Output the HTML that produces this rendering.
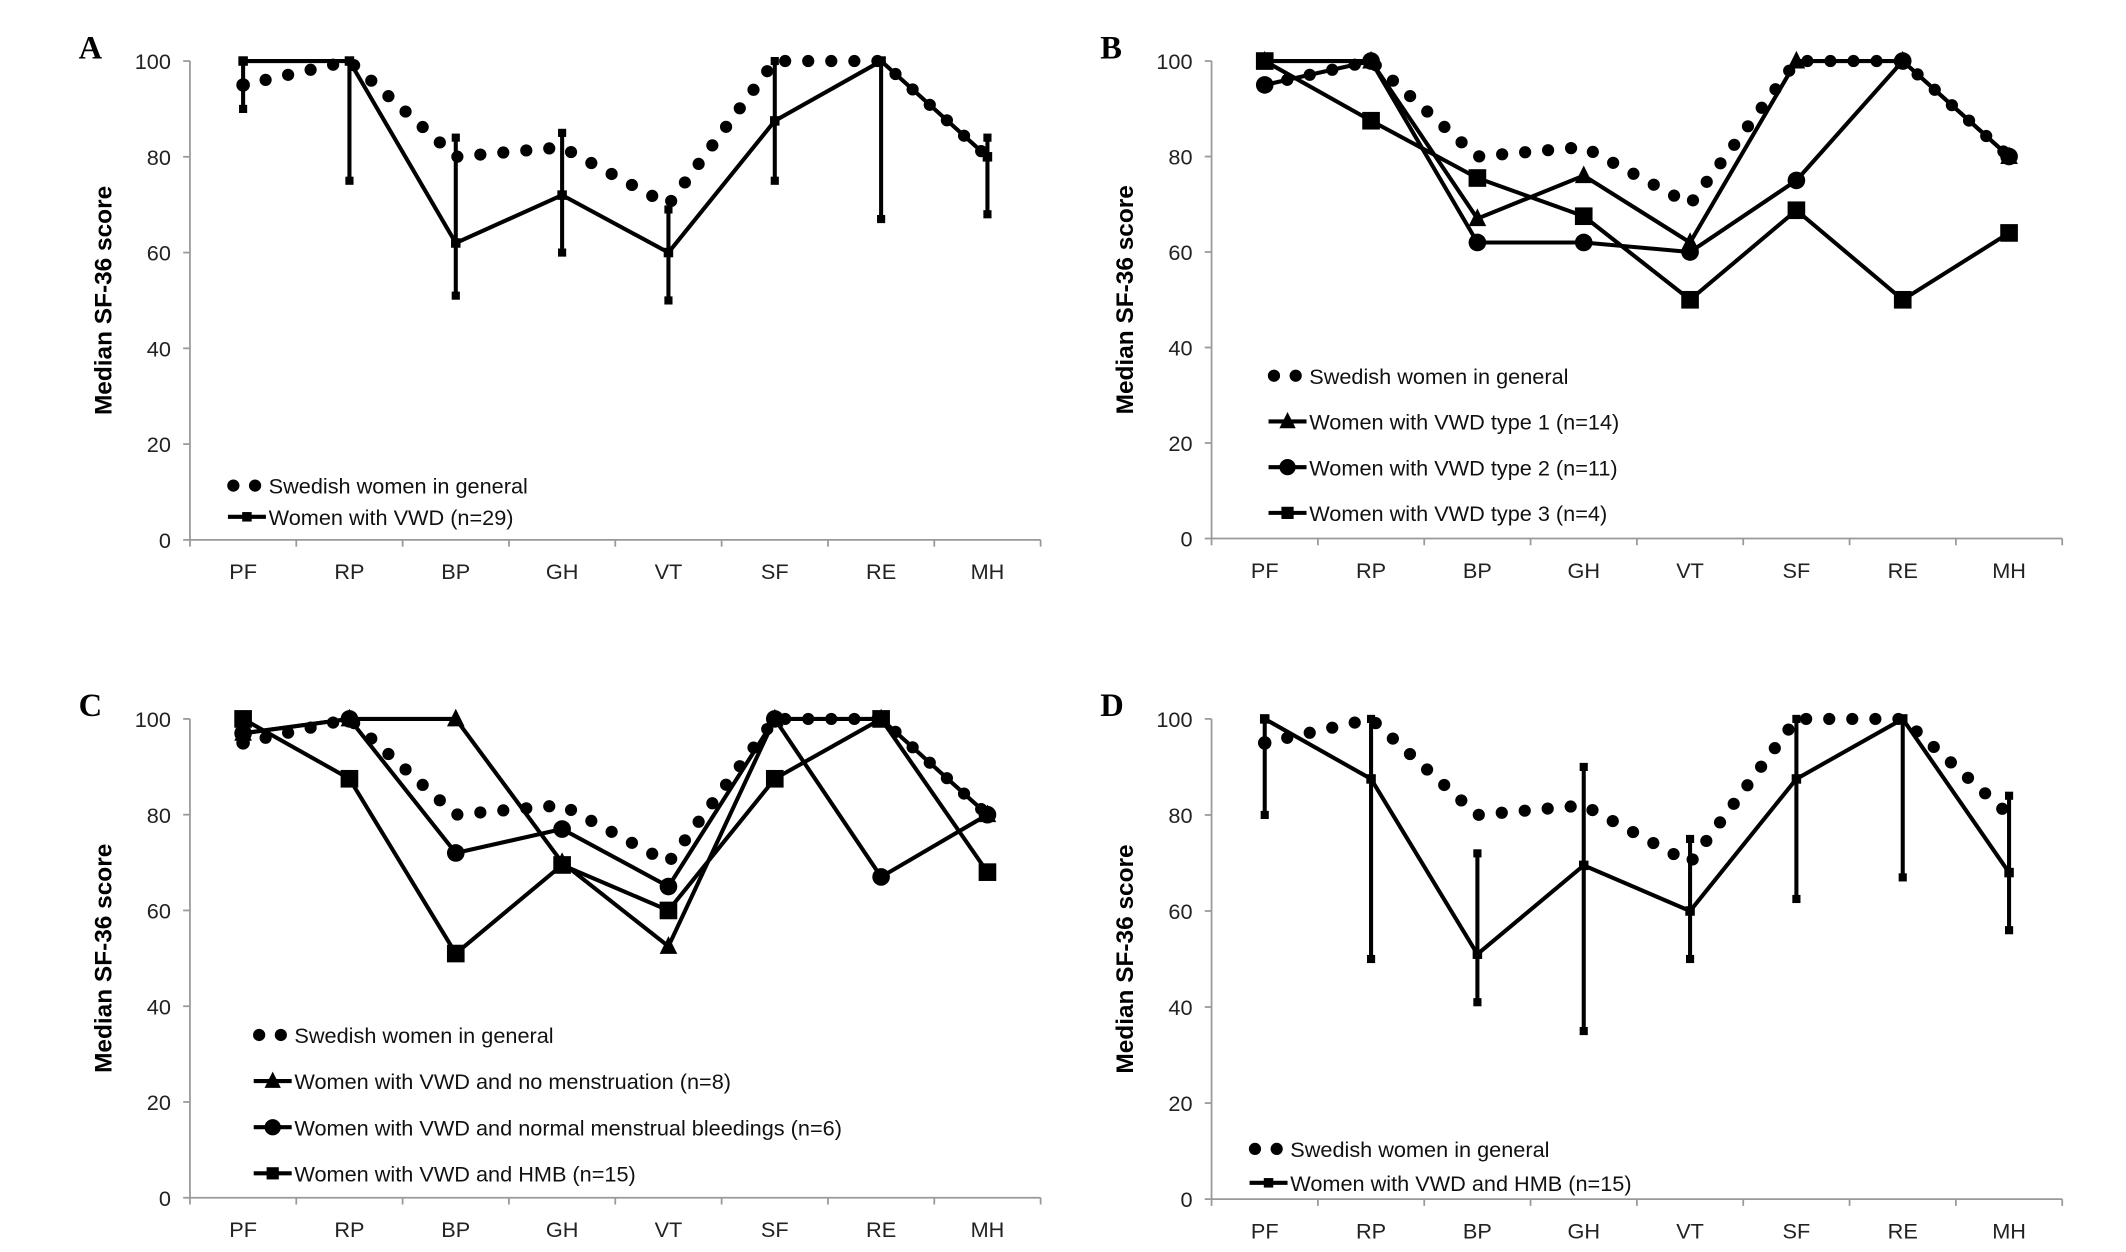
<!DOCTYPE html>
<html><head><meta charset="utf-8"><style>
html,body{margin:0;padding:0;background:#fff}
svg{display:block}
text{font-family:"Liberation Sans",sans-serif}
text.pl{font-family:"Liberation Serif",serif}
</style></head><body>
<svg id="fig" width="2126" height="1252" viewBox="0 0 1567 923" preserveAspectRatio="none"></svg>
<script>
const categories=["PF","RP","BP","GH","VT","SF","RE","MH"];
const yTicks=[0,20,40,60,80,100];
const general=[95,100,80,82,70,100,100,80];
const aVWD=[100,100,62,72,60,87.5,100,80];
const aLow=[90,75,51,60,50,75,67,68];
const aHigh=[100,100,84,85,69,100,100,84];
const bType1=[100,100,67,76,62,100,100,80];
const bType2=[95,100,62,62,60,75,100,80];
const bType3=[100,87.5,75.5,67.5,50,68.75,50,64];
const cNoMens=[97,100,100,70,52.5,100,100,80];
const cNormal=[97,100,72,77,65,100,67,80];
const cHMB=[100,87.5,51,69.5,60,87.5,100,68];
const dHMB=[100,87.5,51,69.5,60,87.5,100,68];
const dLow=[80,50,41,35,50,62.5,67,56];
const dHigh=[100,100,72,90,75,100,100,84];

const NS="http://www.w3.org/2000/svg";
const svg=document.getElementById('fig');
function mk(tag,attrs,parent){const e=document.createElementNS(NS,tag);for(const k in attrs)e.setAttribute(k,attrs[k]);(parent||svg).appendChild(e);return e;}

function panel(p){
  const g=mk('g',{});
  
  
  const x0=p.x0,x1=p.x0+627,yt=p.yt,yb=p.yb;
  const step=(x1-x0)/categories.length;
  const X=i=>x0+step*(i+0.5);
  const Y=v=>yb-(yb-yt)*v/100;
  const lab=mk('text',{x:p.x0-82,y:yt-2,'font-size':24,'font-weight':'bold','class':'pl'},g);
  lab.textContent=p.id;
  
  
  mk('line',{x1:x0,y1:yt,x2:x0,y2:yb,stroke:'#999','stroke-width':1.3},g);
  mk('line',{x1:x0,y1:yb,x2:x1,y2:yb,stroke:'#999','stroke-width':1.3},g);
  yTicks.forEach(t=>{
    mk('line',{x1:x0-5,y1:Y(t),x2:x0,y2:Y(t),stroke:'#999','stroke-width':1.3},g);
    const tx=mk('text',{x:x0-14,y:Y(t)+6,'font-size':16,'text-anchor':'end',fill:'#222'},g);
    tx.textContent=t;
    
    
  });
  for(let i=0;i<=categories.length;i++)mk('line',{x1:x0+step*i,y1:yb,x2:x0+step*i,y2:yb+5,stroke:'#999','stroke-width':1.3},g);
  categories.forEach((c,i)=>{
    const tx=mk('text',{x:X(i),y:yb+29,'font-size':16,'text-anchor':'middle',fill:'#222'},g);
    tx.textContent=c;
    
    
  });
  const at=mk('text',{x:0,y:0,'font-size':18,'font-weight':'bold','text-anchor':'middle',transform:`translate(${x0-58},${(yt+yb)/2}) rotate(-90)`},g);
  at.textContent='Median SF-36 score';
  
  
  const gp=mk('polyline',{points:general.map((v,i)=>X(i)+','+Y(v)).join(' '),fill:'none',stroke:'#000','stroke-width':9,'stroke-linecap':'round','stroke-dasharray':'0 17'},g);
  
  
  mk('circle',{cx:X(0),cy:Y(general[0]),r:5},g);
  if(p.low){p.low.forEach((l,i)=>{
    const eb=mk('line',{x1:X(i),y1:Y(l),x2:X(i),y2:Y(p.high[i]),stroke:'#000','stroke-width':3},g);
    
    
    mk('rect',{x:X(i)-3,y:Y(l)-3,width:6,height:6},g);
    mk('rect',{x:X(i)-3,y:Y(p.high[i])-3,width:6,height:6},g);
  });}
  p.series.forEach(s=>{
    const pl=mk('polyline',{points:s.vals.map((v,i)=>X(i)+','+Y(v)).join(' '),fill:'none',stroke:'#000','stroke-width':3},g);
    
    
    s.vals.forEach((v,i)=>marker(g,s.m,X(i),Y(v),s.sz||6.5));
  });
  p.legend.forEach((L,k)=>{
    const lx=p.lx,ly=p.ly+k*p.ld;
    if(L.m==='dot'){mk('circle',{cx:lx+4,cy:ly,r:4.5},g);mk('circle',{cx:lx+20,cy:ly,r:4.5},g);}
    else{mk('line',{x1:lx,y1:ly,x2:lx+28,y2:ly,stroke:'#000','stroke-width':3},g);marker(g,L.m,lx+14,ly,L.m==='sq'?4.5:6);}
    const t=mk('text',{x:lx+30,y:ly+6,'font-size':16,fill:'#111'},g);
    t.textContent=L.t;
    
    
  });
}
function marker(g,m,x,y,s){
  if(m==='sq')mk('rect',{x:x-s,y:y-s,width:2*s,height:2*s},g);
  else if(m==='sqs')mk('rect',{x:x-3.5,y:y-3.5,width:7,height:7},g);
  else if(m==='ci')mk('circle',{cx:x,cy:y,r:s},g);
  else if(m==='tri')mk('polygon',{points:`${x},${y-s-1} ${x-s},${y+s-1} ${x+s},${y+s-1}`},g);
}
panel({id:'A',x0:140,yt:45,yb:398,low:aLow,high:aHigh,series:[{vals:aVWD,m:'sqs'}],
  lx:168,ly:358,ld:23,legend:[{m:'dot',t:'Swedish women in general'},{m:'sqs',t:'Women with VWD (n=29)'}]});
panel({id:'B',x0:893,yt:45,yb:397,series:[{vals:bType1,m:'tri'},{vals:bType2,m:'ci'},{vals:bType3,m:'sq'}],
  lx:935,ly:277,ld:33.7,legend:[{m:'dot',t:'Swedish women in general'},{m:'tri',t:'Women with VWD type 1 (n=14)'},{m:'ci',t:'Women with VWD type 2 (n=11)'},{m:'sq',t:'Women with VWD type 3 (n=4)'}]});
panel({id:'C',x0:140,yt:530,yb:883,series:[{vals:cNoMens,m:'tri'},{vals:cNormal,m:'ci'},{vals:cHMB,m:'sq'}],
  lx:187,ly:763,ld:34,legend:[{m:'dot',t:'Swedish women in general'},{m:'tri',t:'Women with VWD and no menstruation (n=8)'},{m:'ci',t:'Women with VWD and normal menstrual bleedings (n=6)'},{m:'sq',t:'Women with VWD and HMB (n=15)'}]});
panel({id:'D',x0:893,yt:530,yb:884,low:dLow,high:dHigh,series:[{vals:dHMB,m:'sqs'}],
  lx:921,ly:847,ld:25,legend:[{m:'dot',t:'Swedish women in general'},{m:'sqs',t:'Women with VWD and HMB (n=15)'}]});
</script>
</body></html>
